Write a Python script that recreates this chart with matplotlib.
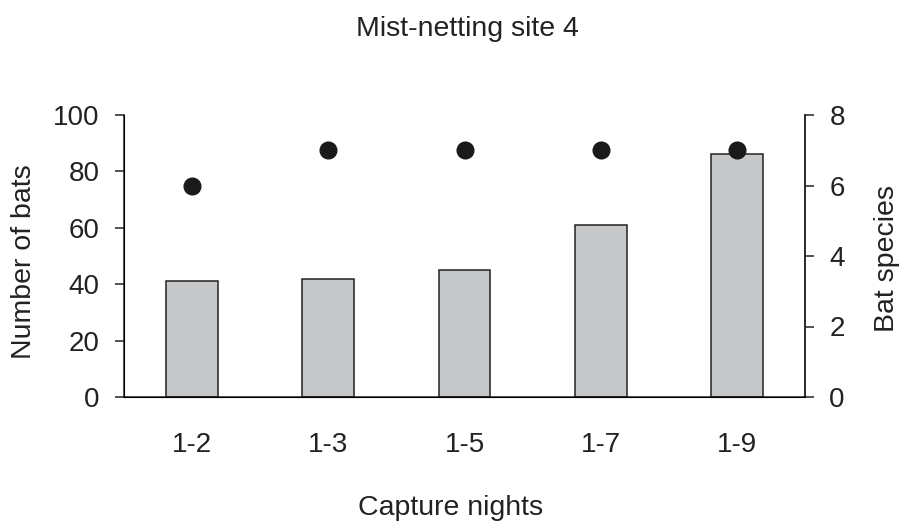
import numpy as np
import matplotlib.pyplot as plt

plt.rcParams['font.family'] = ['Liberation Sans', 'DejaVu Sans']

# data
nights = ['1-2', '1-3', '1-5', '1-7', '1-9']
n_bats = [41, 42, 45, 61, 86]
n_species = [6, 7, 7, 7, 7]

fs = 20      # tick labels
lfs = 20.5   # axis labels and title
fig = plt.figure(figsize=(9.07, 5.28), dpi=100)
ax = fig.add_axes([124 / 907, 1 - 397 / 528, 681 / 907, 282 / 528])
x = np.arange(len(nights))

ax.bar(x, n_bats, width=0.38, color='#c6c7c9', edgecolor='#222222', linewidth=1.1, zorder=2)
ax.set_xlim(-0.5, 4.5)
ax.set_ylim(0, 100)
ax.set_yticks([0, 20, 40, 60, 80, 100])
ax.set_xticks(x)
ax.set_xticklabels(nights)
ax.tick_params(axis='x', length=0, pad=25, labelsize=fs, colors='#222222')
ax.tick_params(axis='y', direction='out', length=6.5, width=1.1, pad=11, labelsize=fs, colors='#222222')
ax.spines['top'].set_visible(False)
for s in ['left', 'right', 'bottom']:
    ax.spines[s].set_linewidth(1.1)
    ax.spines[s].set_color('#222222')
ax.set_ylabel('Number of bats', fontsize=lfs, color='#222222')
ax.yaxis.set_label_coords((37 - 124) / 681, 0.48)
ax.set_xlabel('Capture nights', fontsize=lfs, color='#222222')
ax.xaxis.set_label_coords((451 - 124) / 681, (397 - 495) / 282)

ax2 = ax.twinx()
ax2.plot(x, n_species, 'o', color='#1a1a1a', markersize=12, zorder=3)
ax2.set_ylim(0, 8)
ax2.set_yticks([0, 2, 4, 6, 8])
ax2.tick_params(axis='y', direction='out', length=6.5, width=1.1, pad=11, labelsize=fs, colors='#222222')
ax2.spines['top'].set_visible(False)
ax2.spines['right'].set_linewidth(1.1)
ax2.spines['right'].set_color('#222222')
ax2.set_ylabel('Bat species', fontsize=lfs, color='#222222')
ax2.yaxis.set_label_coords((874 - 124) / 681, 0.49)

fig.text(467.5 / 907, 1 - 36 / 528, 'Mist-netting site 4', fontsize=lfs,
         ha='center', va='baseline', color='#222222')

plt.savefig('out.png', dpi=100)
